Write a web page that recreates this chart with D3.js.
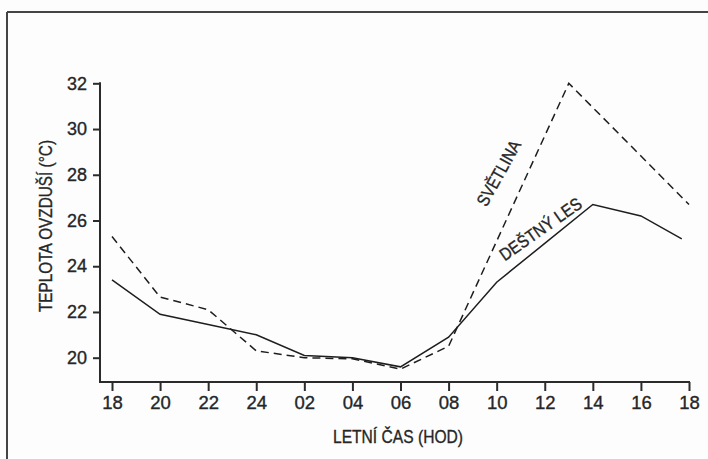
<!DOCTYPE html>
<html>
<head>
<meta charset="utf-8">
<script src="https://cdn.jsdelivr.net/npm/d3@7"></script>
<style>
  html, body { margin: 0; padding: 0; background: #fdfdfd; }
  svg { display: block; }
  text { font-family: "Liberation Sans", Arial, sans-serif; fill: #262626; stroke: #262626; stroke-width: 0.35px; }
</style>
</head>
<body>
<svg id="chart" width="708" height="459"></svg>
<script>
// ---- data (hours after 18:00 on the x axis) ----
const xTickValues = [0, 2, 4, 6, 8, 10, 12, 14, 16, 18, 20, 22, 24];
const xTickLabels = ["18", "20", "22", "24", "02", "04", "06", "08", "10", "12", "14", "16", "18"];
const yTickValues = [20, 22, 24, 26, 28, 30, 32];

const lesHours   = [0, 2, 4, 6, 8, 10, 12, 14, 16, 18, 20, 22, 23.7];
const lesTemps   = [23.4, 21.9, 21.45, 21.0, 20.1, 20.0, 19.6, 20.9, 23.3, 25.0, 26.7, 26.2, 25.2];

const svetHours  = [0, 2, 4, 6, 8, 10, 12, 14, 19, 24];
const svetTemps  = [25.3, 22.65, 22.1, 20.3, 20.0, 19.95, 19.5, 20.5, 32.0, 26.7];

const xTitle = "LETNÍ ČAS (HOD)";
const yTitle = "TEPLOTA OVZDUŠÍ (°C)";
const lesLabel = "DEŠTNÝ LES";
const svetLabel = "SVĚTLINA";

// ---- drawing ----
const svg = d3.select("#chart");
const ink = "#2b2b2b";

const x = d3.scaleLinear().domain([0, 24]).range([112, 689]);
const y = d3.scaleLinear().domain([20, 32]).range([357.7, 83.3]);
const axisY = 382, axisX = 100;

// frame (top & left edges of the scanned box)
svg.append("line").attr("x1", 7).attr("x2", 708).attr("y1", 12).attr("y2", 12)
  .attr("stroke", "#444").attr("stroke-width", 2);
svg.append("line").attr("x1", 7).attr("x2", 7).attr("y1", 12).attr("y2", 459)
  .attr("stroke", "#444").attr("stroke-width", 2);

// axes
const gx = svg.append("g").attr("transform", `translate(0,${axisY})`)
  .call(d3.axisBottom(x).tickValues(xTickValues)
    .tickFormat((d, i) => xTickLabels[i]).tickSize(9).tickSizeOuter(0).tickPadding(5));
gx.select(".domain").remove();
gx.selectAll(".tick line").attr("stroke", ink).attr("stroke-width", 2);
gx.selectAll(".tick text").attr("fill", "#262626")
  .style("font-family", "'Liberation Sans', Arial, sans-serif").style("font-size", "18.5px");

const gy = svg.append("g").attr("transform", `translate(${axisX},0)`)
  .call(d3.axisLeft(y).tickValues(yTickValues).tickSize(7).tickSizeOuter(0).tickPadding(6));
gy.select(".domain").remove();
gy.selectAll(".tick line").attr("stroke", ink).attr("stroke-width", 2);
gy.selectAll(".tick text").attr("fill", "#262626")
  .style("font-family", "'Liberation Sans', Arial, sans-serif").style("font-size", "18px");

svg.append("line").attr("x1", axisX).attr("x2", axisX).attr("y1", y(32) - 1).attr("y2", axisY + 1)
  .attr("stroke", ink).attr("stroke-width", 2);
svg.append("line").attr("x1", axisX - 1).attr("x2", x(24) + 1).attr("y1", axisY).attr("y2", axisY)
  .attr("stroke", ink).attr("stroke-width", 2);

// lines
const lineGen = d3.line().x(d => x(d[0])).y(d => y(d[1]));
svg.append("path").datum(d3.zip(lesHours, lesTemps))
  .attr("d", lineGen).attr("fill", "none").attr("stroke", "#1e1e1e")
  .attr("stroke-width", 1.5).attr("stroke-linejoin", "miter");
svg.append("path").datum(d3.zip(svetHours, svetTemps))
  .attr("d", lineGen).attr("fill", "none").attr("stroke", "#1e1e1e")
  .attr("stroke-width", 1.5).attr("stroke-dasharray", "8,5");

// titles (condensed via textLength)
svg.append("text").attr("x", 398).attr("y", 443).attr("text-anchor", "middle")
  .attr("font-size", 18).attr("textLength", 130).attr("lengthAdjust", "spacingAndGlyphs").text(xTitle);
svg.append("text").attr("transform", "translate(52,226) rotate(-90)").attr("text-anchor", "middle")
  .attr("font-size", 18).attr("textLength", 172).attr("lengthAdjust", "spacingAndGlyphs").text(yTitle);

// in-line labels
svg.append("text").attr("transform", "translate(504,176) rotate(-61)").attr("text-anchor", "middle")
  .attr("font-size", 17.5).attr("textLength", 72).attr("lengthAdjust", "spacingAndGlyphs").text(svetLabel);
svg.append("text").attr("transform", "translate(544,234) rotate(-35)").attr("text-anchor", "middle")
  .attr("font-size", 17.5).attr("textLength", 96).attr("lengthAdjust", "spacingAndGlyphs").text(lesLabel);
</script>
</body>
</html>
